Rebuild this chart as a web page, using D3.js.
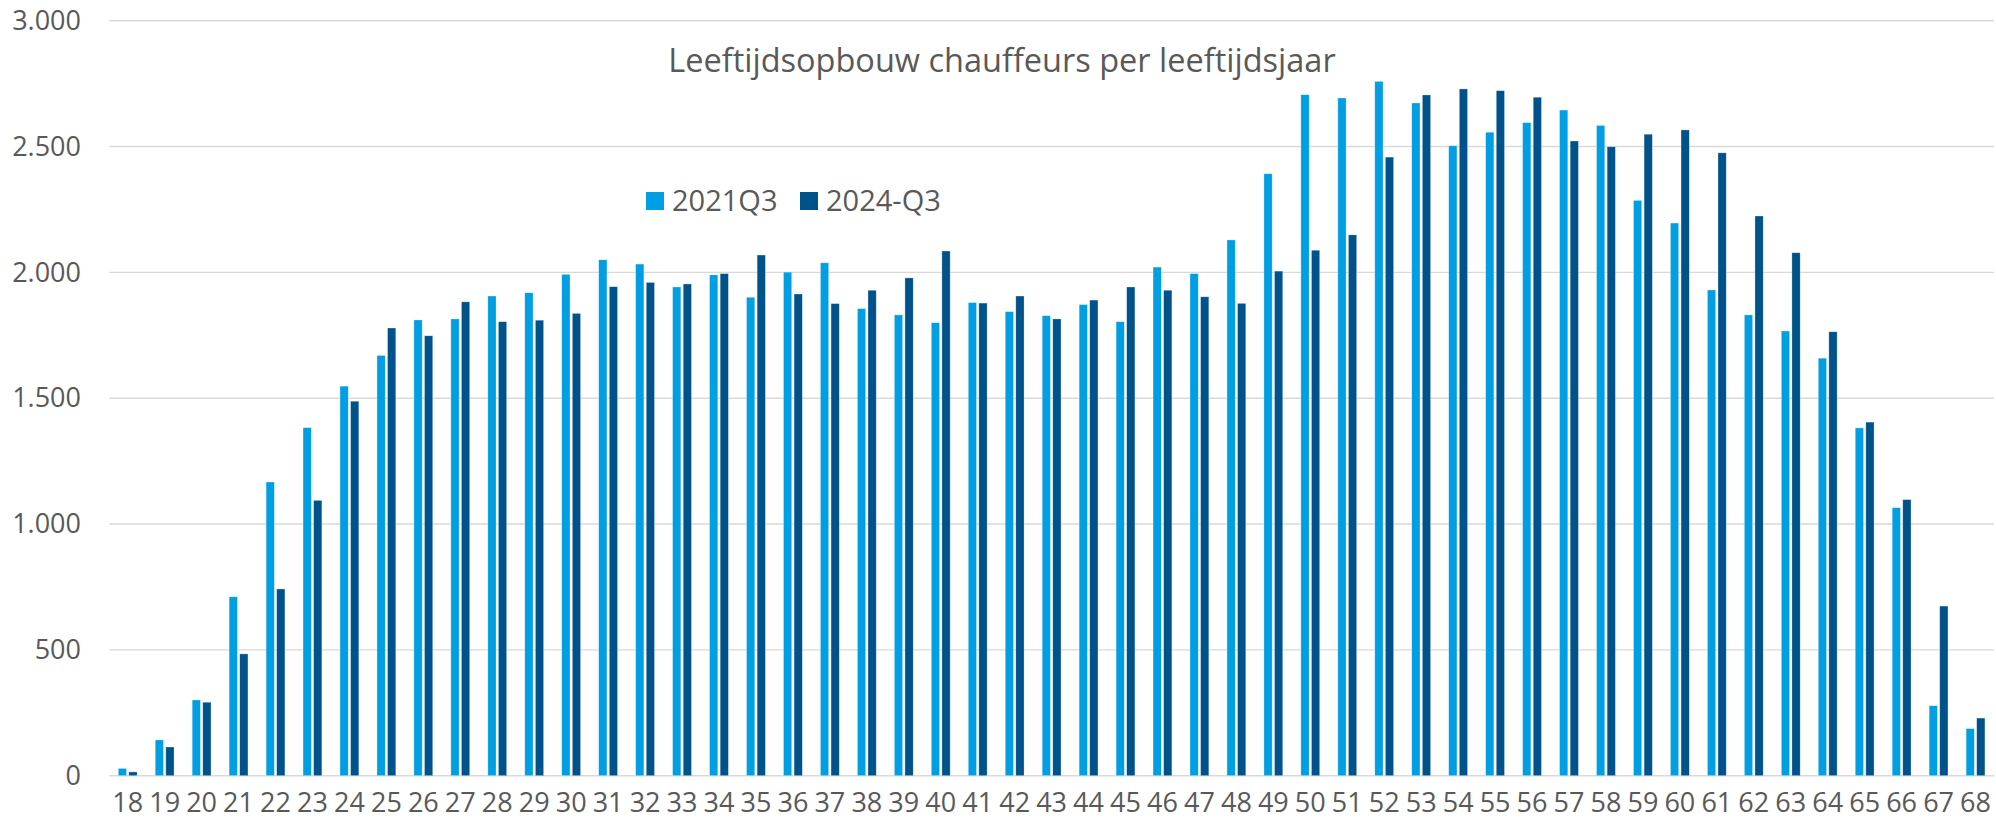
<!DOCTYPE html>
<html>
<head>
<meta charset="utf-8">
<script src="https://cdn.jsdelivr.net/npm/d3@7"></script>
<style>
  body { margin: 0; background: #fff; }
  text { font-family: "Open Sans", sans-serif; fill: #595959; }
</style>
</head>
<body>
<div class="svg-container"></div>
<script>
var ages = d3.range(18, 69).map(String);
var seriesNames = ["2021Q3", "2024-Q3"];
var values2021 = [29, 142, 301, 711, 1167, 1383, 1548, 1670, 1811, 1815, 1906, 1919, 1992, 2050, 2033, 1942, 1990,
  1901, 2001, 2038, 1856, 1831, 1800, 1880, 1844, 1828, 1872, 1804, 2021, 1995, 2129, 2392, 2706, 2693, 2759, 2673,
  2503, 2557, 2595, 2645, 2584, 2286, 2196, 1930, 1831, 1767, 1659, 1382, 1065, 278, 187];
var values2024 = [15, 114, 292, 484, 742, 1094, 1488, 1779, 1748, 1883, 1804, 1810, 1837, 1943, 1960, 1954, 1995,
  2069, 1914, 1876, 1929, 1978, 2085, 1878, 1906, 1815, 1890, 1942, 1929, 1903, 1877, 2005, 2088, 2149, 2458, 2705,
  2729, 2722, 2696, 2522, 2499, 2549, 2566, 2475, 2224, 2078, 1764, 1405, 1097, 674, 229];
var yTicks = [0, 500, 1000, 1500, 2000, 2500, 3000];
var colors = ["#009FE3", "#00528A"];

var svgWidth = 1996;
var svgHeight = 826;

var svg = d3.select(".svg-container").append("svg")
  .attr("width", svgWidth)
  .attr("height", svgHeight);

var y = d3.scaleLinear().domain([0, 3000]).range([775.7, 20.7]);
var x0 = d3.scaleBand().domain(ages).range([109.2, 1994]).paddingInner(0.49).paddingOuter(0.245);
var x1 = d3.scaleBand().domain(seriesNames).range([0, x0.bandwidth()]).paddingInner(0.22);

var fmt = function(v) { return d3.format(",")(v).replace(/,/g, "."); };

// gridlines
svg.append("g").selectAll("line").data(yTicks).enter().append("line")
  .attr("x1", 109.2)
  .attr("x2", 1994)
  .attr("y1", function(d) { return y(d); })
  .attr("y2", function(d) { return y(d); })
  .attr("stroke", "#d9d9d9")
  .attr("stroke-width", 1.4);

var yAxis = svg.append("g")
  .attr("transform", "translate(81,0)")
  .call(d3.axisLeft(y).tickValues(yTicks).tickFormat(fmt).tickSize(0).tickPadding(0));
yAxis.select(".domain").remove();
yAxis.selectAll("text")
  .attr("font-size", 27)
  .attr("font-family", "Open Sans")
  .attr("fill", "#595959");

var xAxis = svg.append("g")
  .attr("transform", "translate(0,793)")
  .call(d3.axisBottom(x0).tickSize(0).tickPadding(0));
xAxis.select(".domain").remove();
xAxis.selectAll("text")
  .attr("font-size", 27)
  .attr("font-family", "Open Sans")
  .attr("fill", "#595959")
  .attr("dy", "0.71em");

var rows = ages.map(function(a, i) {
  return [{key: seriesNames[0], age: a, value: values2021[i]}, {key: seriesNames[1], age: a, value: values2024[i]}];
});

svg.append("g").selectAll("g").data(rows).enter().append("g")
  .attr("transform", function(d) { return "translate(" + x0(d[0].age) + ",0)"; })
  .selectAll("rect").data(function(d) { return d; }).enter().append("rect")
    .attr("x", function(d) { return x1(d.key); })
    .attr("y", function(d) { return y(d.value); })
    .attr("width", x1.bandwidth())
    .attr("height", function(d) { return y(0) - y(d.value); })
    .attr("fill", function(d, i) { return colors[i]; })
    .attr("stroke", "#ffffff")
    .attr("stroke-opacity", 0.5)
    .attr("stroke-width", 0.6);

svg.append("text")
  .attr("x", 1002)
  .attr("y", 71.7)
  .attr("text-anchor", "middle")
  .attr("font-size", 32.5)
  .text("Leeftijdsopbouw chauffeurs per leeftijdsjaar");

var legendPos = [646, 800];
var legend = svg.append("g").selectAll("g").data(seriesNames).enter().append("g")
  .attr("transform", function(d, i) { return "translate(" + legendPos[i] + ",192)"; });
legend.append("rect")
  .attr("width", 18)
  .attr("height", 18)
  .attr("fill", function(d, i) { return colors[i]; });
legend.append("text")
  .attr("x", 26)
  .attr("y", 18.7)
  .attr("font-size", 29)
  .text(function(d) { return d; });
</script>
</body>
</html>
